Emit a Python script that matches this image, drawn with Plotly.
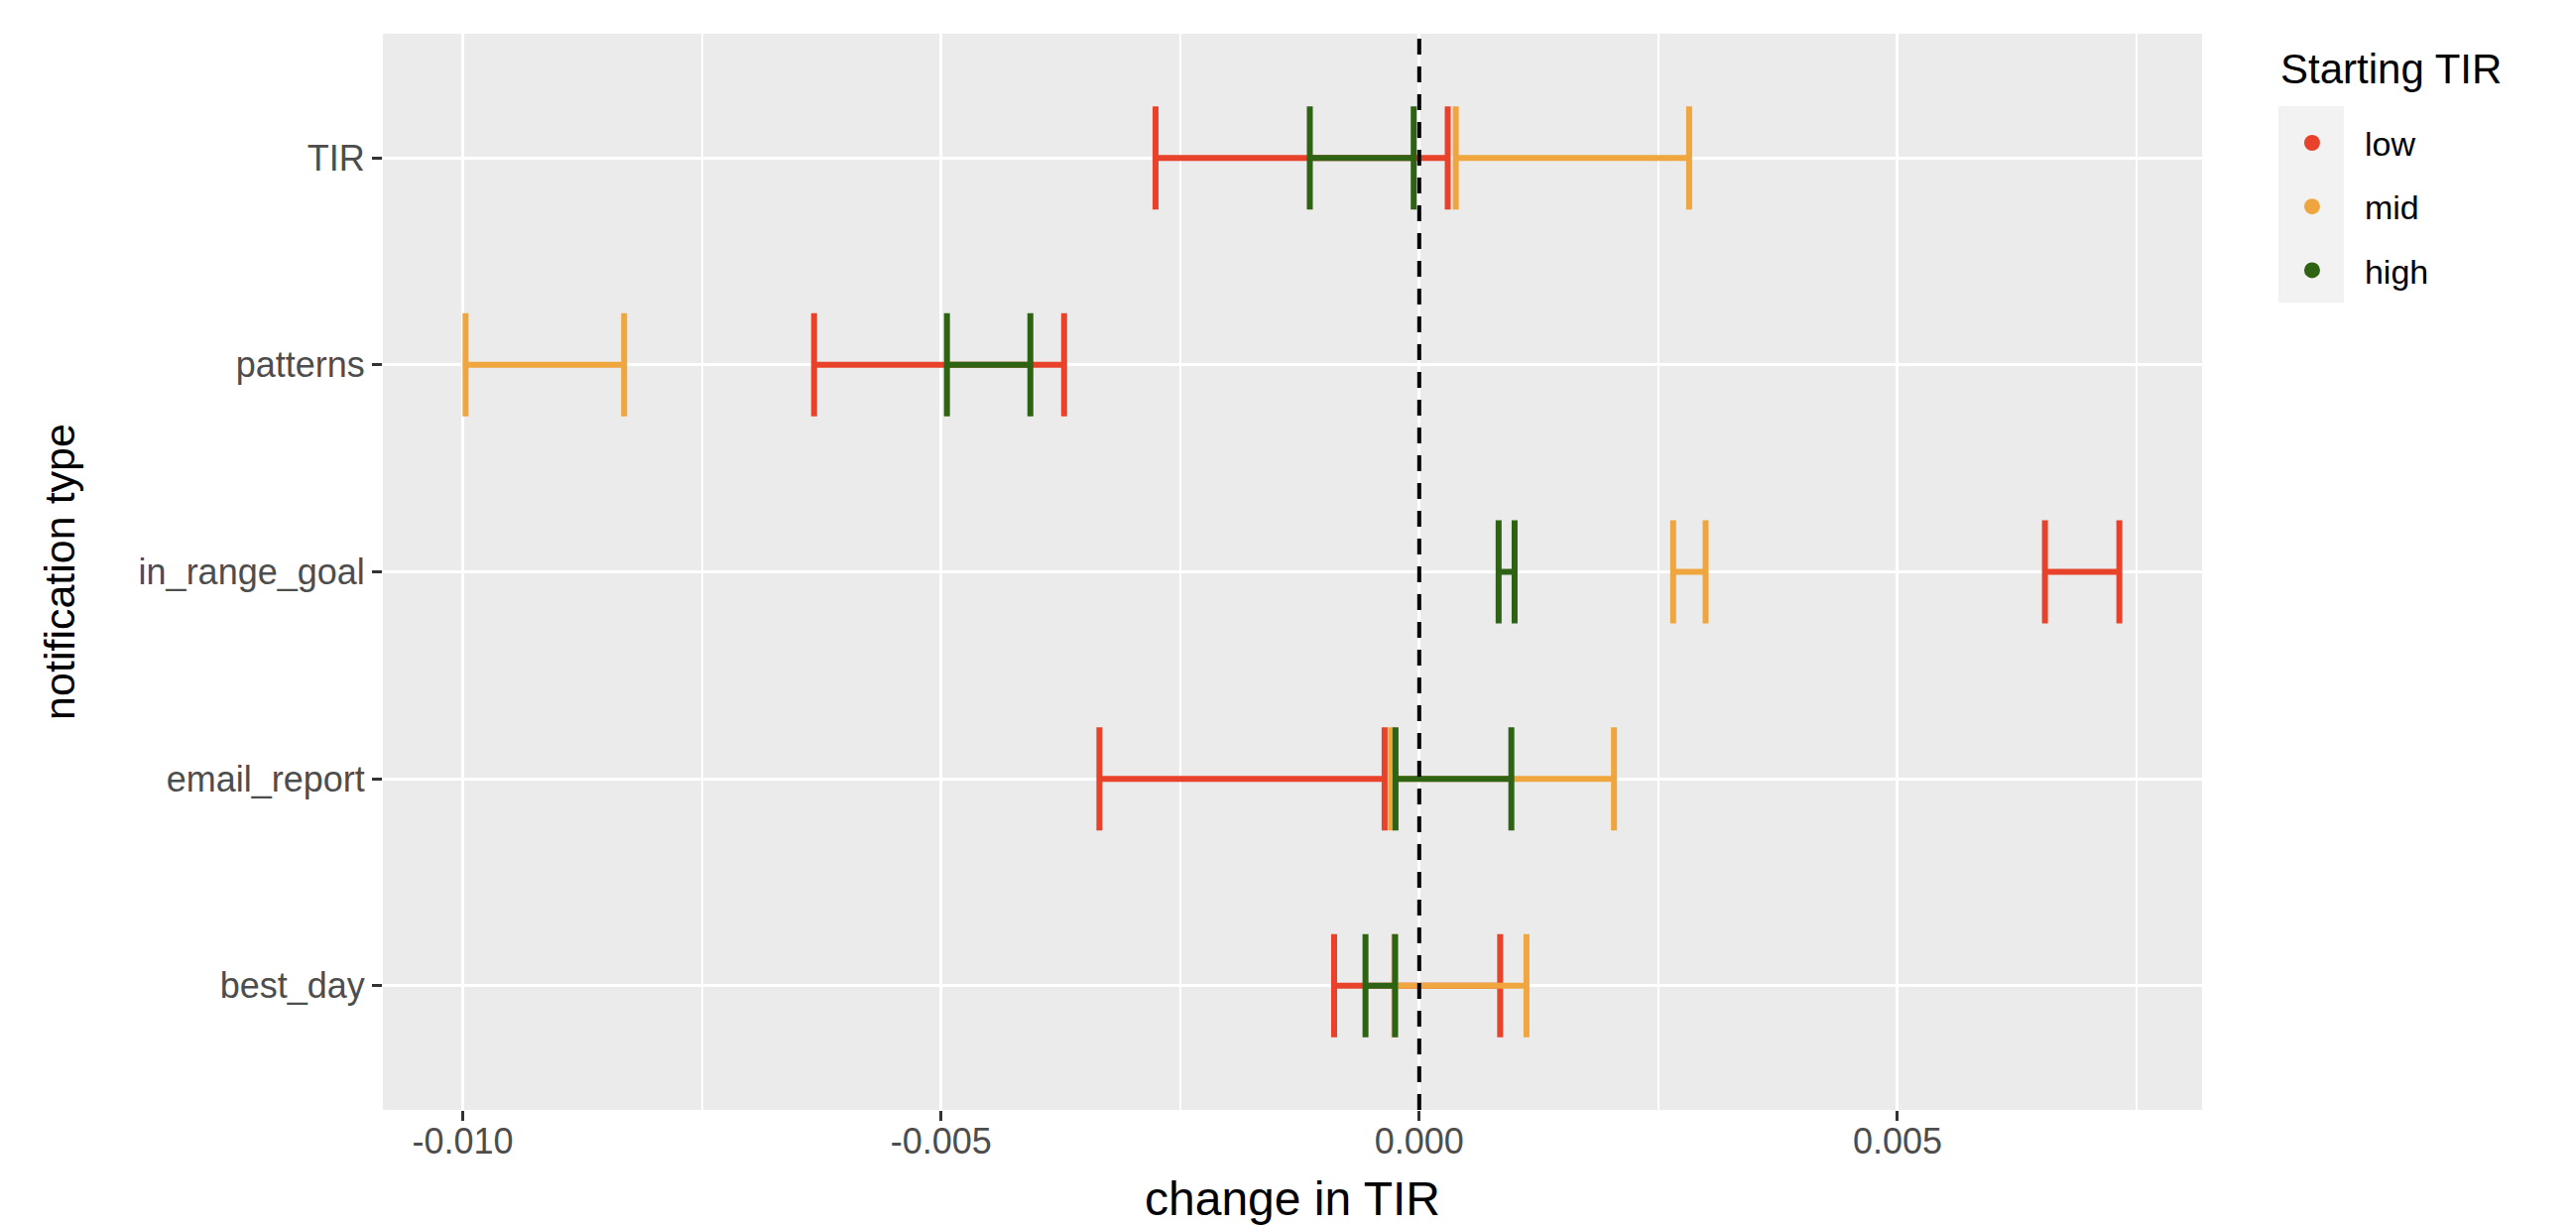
import plotly.graph_objects as go

# ---- data ----
categories = ["TIR", "patterns", "in_range_goal", "email_report", "best_day"]
groups = ["low", "mid", "high"]
group_colors = ["#E8432A", "#F0A63E", "#2E6314"]

low_lo = [-0.002757, -0.006327, 0.006542, -0.003344, -0.000890]
low_hi = [0.000298, -0.003713, 0.007320, -0.000362, 0.000846]
mid_lo = [0.000382, -0.009971, 0.002655, -0.000293, -0.000260]
mid_hi = [0.002822, -0.008313, 0.002994, 0.002036, 0.001121]
high_lo = [-0.001144, -0.004938, 0.000830, -0.000248, -0.000562]
high_hi = [-0.000058, -0.004066, 0.000997, 0.000963, -0.000252]

x_ticks = [-0.010, -0.005, 0.000, 0.005]
x_ticklabels = ["-0.010", "-0.005", "0.000", "0.005"]
zero_line = 0.0

lows = [low_lo, mid_lo, high_lo]
highs = [low_hi, mid_hi, high_hi]

FONT = "Liberation Sans, Arial, Helvetica, sans-serif"

fig = go.Figure()

for name, color, lo, hi in zip(groups, group_colors, lows, highs):
    mid = [(a + b) / 2 for a, b in zip(lo, hi)]
    half = [(b - a) / 2 for a, b in zip(lo, hi)]
    fig.add_trace(go.Scatter(
        x=mid, y=categories, mode="markers",
        marker=dict(size=1, color=color, opacity=0),
        error_x=dict(type="data", symmetric=True, array=half,
                     color=color, thickness=6, width=52),
        showlegend=False, hoverinfo="skip", name=name,
    ))

# legend entries (dots)
for i, (name, color) in enumerate(zip(groups, group_colors)):
    fig.add_trace(go.Scatter(
        x=[None], y=[None], mode="markers", name=name,
        marker=dict(size=18, color=color),
        legendgroup=f"g{i}", showlegend=True,
    ))

fig.add_vline(x=zero_line, line=dict(color="black", width=4, dash="16px,12px"), layer="above")

all_vals = low_lo + low_hi + mid_lo + mid_hi + high_lo + high_hi
vmin, vmax = min(all_vals), max(all_vals)
pad = (vmax - vmin) * 0.05

fig.update_layout(
    width=2589, height=1227,
    margin=dict(l=378, r=377, t=26, b=116, autoexpand=False),
    paper_bgcolor="white", plot_bgcolor="#EBEBEB",
    font=dict(family=FONT, color="black"),
    legend=dict(
        font=dict(size=34, color="black", family=FONT),
        x=1.0316, xanchor="left", y=0.925, yanchor="top",
        bgcolor="rgba(0,0,0,0)", itemwidth=96, tracegroupgap=17,
    ),
    xaxis=dict(
        range=[vmin - pad, vmax + pad],
        tickvals=x_ticks, ticktext=x_ticklabels,
        showgrid=True, gridcolor="white", gridwidth=3,
        minor=dict(showgrid=True, gridcolor="white", gridwidth=1.5, dtick=0.0025, tick0=0),
        zeroline=False, showline=False,
        ticks="outside", ticklen=10, tickwidth=3, tickcolor="#333333",
        tickfont=dict(size=36, color="#4D4D4D", family=FONT),
        ticklabelstandoff=-10,
        title=dict(text="change in TIR", font=dict(size=48, color="black", family=FONT), standoff=30),
        automargin=False,
    ),
    yaxis=dict(
        type="category",
        categoryorder="array", categoryarray=categories[::-1],
        range=[-0.6, len(categories) - 0.4],
        showgrid=True, gridcolor="white", gridwidth=3,
        zeroline=False, showline=False,
        ticks="outside", ticklen=10, tickwidth=3, tickcolor="#333333",
        tickfont=dict(size=36, color="#4D4D4D", family=FONT),
        title=dict(text="notification type", font=dict(size=43, color="black", family=FONT), standoff=50),
        automargin=False,
    ),
)

# legend title
fig.add_annotation(text="Starting TIR", xref="paper", yref="paper",
                   x=1.042, y=0.967, xanchor="left", yanchor="middle",
                   showarrow=False, font=dict(size=42, color="black", family=FONT))

# grey key background behind the legend dots (ggplot legend key)
fig.add_shape(type="rect", xref="paper", yref="paper",
              x0=1.042, x1=1.078, y0=0.750, y1=0.9327,
              fillcolor="#F2F2F2", line=dict(width=0), layer="below")

fig.write_html("out.html")
